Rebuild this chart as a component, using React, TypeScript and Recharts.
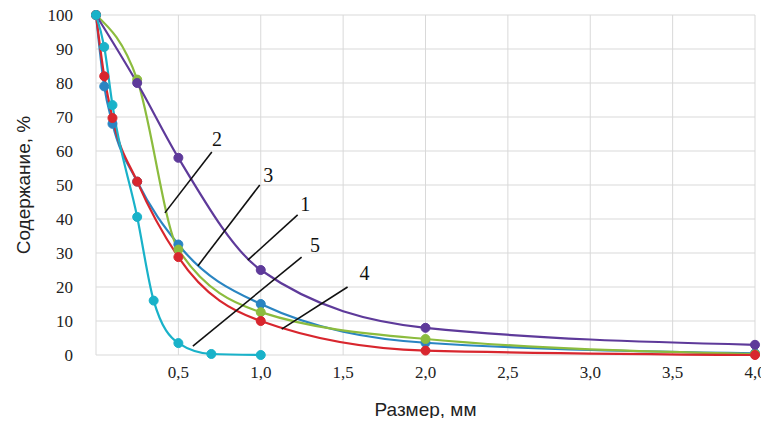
import { CartesianGrid, Label, Line, LineChart, ReferenceDot, ReferenceLine, XAxis, YAxis } from "recharts";

// fractions, size in mm vs content in %
const sizes1 = [0, 0.25, 0.5, 1.0, 2.0, 4.0];
const content1 = [100, 80, 58, 25, 8, 3];

const sizes2 = [0, 0.25, 0.5, 1.0, 2.0, 4.0];
const content2 = [100, 81, 31, 12.6, 4.7, 0.3];

const sizes3 = [0, 0.05, 0.1, 0.25, 0.5, 1.0, 2.0, 4.0];
const content3 = [100, 79, 68, 51, 32.5, 15, 3.6, 0.5];

const sizes4 = [0, 0.05, 0.1, 0.25, 0.5, 1.0, 2.0, 4.0];
const content4 = [100, 82, 69.7, 51, 28.8, 10, 1.3, 0];

const sizes5 = [0, 0.05, 0.1, 0.25, 0.35, 0.5, 0.7, 1.0];
const content5 = [100, 90.6, 73.5, 40.6, 16, 3.5, 0.3, 0];

const xTicks = [0, 0.5, 1, 1.5, 2, 2.5, 3, 3.5, 4];
const yTicks = [0, 10, 20, 30, 40, 50, 60, 70, 80, 90, 100];

// leader lines: [label, x1, y1, x2, y2, labelX, labelY]
const leaders: [string, number, number, number, number, number, number][] = [
  ["2", 0.418, 41.8, 0.703, 59.7, 0.735, 63.5],
  ["3", 0.618, 26.2, 0.994, 50, 1.045, 53],
  ["1", 0.921, 27.9, 1.224, 41.2, 1.27, 44.5],
  ["5", 0.588, 2.6, 1.248, 28.8, 1.33, 32.5],
  ["4", 1.127, 7.6, 1.527, 20, 1.63, 24],
];

const COLORS = ["#5e3a9a", "#8cbc3e", "#2a85c2", "#d8262e", "#19b2c9"];
const SERIF = "'Liberation Serif', 'Times New Roman', serif";
const SANS = "'Liberation Sans', Arial, sans-serif";

const toRows = (xs: number[], ys: number[]) => xs.map((x, i) => ({ x, y: ys[i] }));

const series = [
  toRows(sizes3, content3),
  toRows(sizes2, content2),
  toRows(sizes1, content1),
  toRows(sizes4, content4),
  toRows(sizes5, content5),
];
const seriesColors = [COLORS[2], COLORS[1], COLORS[0], COLORS[3], COLORS[4]];

const fmtX = (v: number) => (v === 0 ? "" : v.toFixed(1).replace(".", ","));

const XTick = (p: any) => (
  <text x={p.x} y={p.y + 15} textAnchor="middle" fill="#222" style={{ fontFamily: SERIF, fontSize: 17 }}>
    {fmtX(p.payload.value)}
  </text>
);

const YTick = (p: any) => (
  <text x={73} y={p.y} textAnchor="end" dominantBaseline="central" fill="#222" style={{ fontFamily: SERIF, fontSize: 17 }}>
    {p.payload.value}
  </text>
);

export default function App() {
  return (
    <div style={{ margin: -8, width: 769, height: 426, background: "#fff" }}>
      <LineChart width={769} height={426} margin={{ top: 15, right: 14, bottom: 0, left: 0 }}>
        <CartesianGrid stroke="#d9d9d9" strokeWidth={1} />
        <XAxis
          type="number"
          dataKey="x"
          domain={[0, 4]}
          ticks={xTicks}
          axisLine={false}
          tickLine={false}
          height={71}
          tick={XTick}
        >
          <Label
            value="Размер, мм"
            position="insideBottom"
            offset={10}
            style={{ fill: "#222", fontFamily: SANS, fontSize: 19 }}
          />
        </XAxis>
        <YAxis
          type="number"
          dataKey="y"
          domain={[0, 100]}
          ticks={yTicks}
          axisLine={false}
          tickLine={false}
          width={96}
          tick={YTick}
        >
          <Label
            content={() => (
              <text
                x={23}
                y={185}
                transform="rotate(-90 23 185)"
                textAnchor="middle"
                dominantBaseline="central"
                fill="#222"
                style={{ fontFamily: SANS, fontSize: 19 }}
              >
                Содержание, %
              </text>
            )}
          />
        </YAxis>

        {series.map((rows, i) => (
          <Line
            key={i}
            data={rows}
            dataKey="y"
            type="monotone"
            stroke={seriesColors[i]}
            strokeWidth={2.2}
            dot={{ r: 4.5, fill: seriesColors[i], stroke: seriesColors[i], strokeWidth: 1 }}
            activeDot={false}
            isAnimationActive={false}
          />
        ))}

        {leaders.map(([name, x1, y1, x2, y2]) => (
          <ReferenceLine
            key={"l" + name}
            segment={[
              { x: x1, y: y1 },
              { x: x2, y: y2 },
            ]}
            stroke="#111"
            strokeWidth={1.6}
          />
        ))}
        {leaders.map(([name, , , , , lx, ly]) => (
          <ReferenceDot
            key={"d" + name}
            x={lx}
            y={ly}
            r={0}
            shape={(p: any) => (
              <text
                x={p.cx}
                y={p.cy}
                textAnchor="middle"
                dominantBaseline="central"
                fill="#111"
                style={{ fontFamily: SERIF, fontSize: 20 }}
              >
                {name}
              </text>
            )}
          />
        ))}
      </LineChart>
    </div>
  );
}
